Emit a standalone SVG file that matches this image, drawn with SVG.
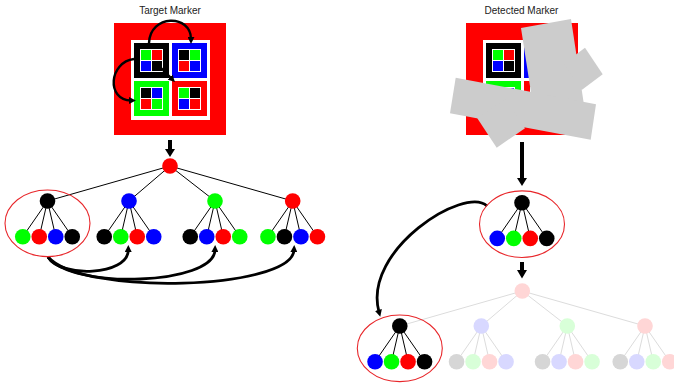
<svg xmlns="http://www.w3.org/2000/svg" width="674" height="387" viewBox="0 0 674 387">
<style>
.t{font-family:"Liberation Sans",Arial,sans-serif;font-size:10px;fill:#222;text-anchor:middle}
.e{stroke:#000;stroke-width:1}
.fe{stroke:#dcdcdc;stroke-width:1}
.ring{fill:none;stroke:#e8262a;stroke-width:1.1}
.con{fill:none;stroke:#000;stroke-width:2.8}
.mcon{fill:none;stroke:#000;stroke-width:2.4}
.k{fill:#000}.r{fill:#f00}.g{fill:#0f0}.b{fill:#00f}
.fk{fill:#d6d6d6}.fr{fill:#ffd6d6}.fg{fill:#d8ffd8}.fb{fill:#d8d8ff}
.w{fill:#fff}
.occ{fill:#cccccc}
</style>
<defs>
<marker id="ah" viewBox="0 0 10 10" refX="3" refY="5" markerWidth="7" markerHeight="7" markerUnits="userSpaceOnUse" orient="auto"><path d="M0,0 L10,5 L0,10 z" fill="#000"/></marker>
<g id="grid-k"><rect x="6" y="6" width="23" height="23" class="w"/><rect x="7" y="7" width="10" height="10" class="g"/><rect x="18" y="7" width="10" height="10" class="r"/><rect x="7" y="18" width="10" height="10" class="b"/><rect x="18" y="18" width="10" height="10" class="k"/></g>
<g id="grid-b"><rect x="6" y="6" width="23" height="23" class="w"/><rect x="7" y="7" width="10" height="10" class="k"/><rect x="18" y="7" width="10" height="10" class="g"/><rect x="7" y="18" width="10" height="10" class="r"/><rect x="18" y="18" width="10" height="10" class="b"/></g>
<g id="grid-g"><rect x="6" y="6" width="23" height="23" class="w"/><rect x="7" y="7" width="10" height="10" class="k"/><rect x="18" y="7" width="10" height="10" class="b"/><rect x="7" y="18" width="10" height="10" class="r"/><rect x="18" y="18" width="10" height="10" class="g"/></g>
<g id="grid-r"><rect x="6" y="6" width="23" height="23" class="w"/><rect x="7" y="7" width="10" height="10" class="g"/><rect x="18" y="7" width="10" height="10" class="k"/><rect x="7" y="18" width="10" height="10" class="b"/><rect x="18" y="18" width="10" height="10" class="r"/></g>
<g id="marker-body">
<rect x="0" y="0" width="112" height="112" class="r"/>
<rect x="17" y="17" width="79" height="80" class="w"/>
<rect x="20" y="20" width="35" height="35" class="k"/>
<rect x="58" y="20" width="35" height="35" class="b"/>
<rect x="20" y="58" width="35" height="35" class="g"/>
<rect x="58" y="58" width="35" height="35" class="r"/>
<use href="#grid-k" x="20" y="20"/>
<use href="#grid-b" x="58" y="20"/>
<use href="#grid-g" x="20" y="58"/>
<use href="#grid-r" x="58" y="58"/>
</g>
</defs>

<g id="title-target"><text class="t" x="170" y="13.5">Target Marker</text></g>
<g id="title-detected"><text class="t" x="521.5" y="13.5">Detected Marker</text></g>

<g id="target-marker">
<use href="#marker-body" x="114" y="23"/>
<path class="mcon" d="M149,43 C150,14 191,14 191,39" marker-end="url(#ah)"/>
<path class="mcon" d="M134,59 C109,62 106,100 131,100.5" marker-end="url(#ah)"/>
<path class="mcon" d="M160,67 L171.5,78.5" marker-end="url(#ah)"/>
</g>

<g id="detected-marker">
<use href="#marker-body" x="466" y="23"/>
<g id="occlusion">
<polygon class="occ" points="521,28 571,19 584,105 534,112"/>
<polygon class="occ" points="585,47.7 602.7,74.3 581.7,90 564,63.4"/>
<polygon class="occ" points="455.7,77.7 596,104.3 590.7,139.7 450,113.3"/>
<polygon class="occ" points="477.3,118.3 496.7,147.7 525,128.3 505.6,99"/>
</g>
</g>

<g id="connectors">
<path id="down-target" d="M168,140 L172,140 L172,149 L175,149 L170,157 L165,149 L168,149 Z" fill="#000"/>
<path id="down-detected" d="M520,142 L524,142 L524,178 L527,178 L522,186 L517,178 L520,178 Z" fill="#000"/>
<path id="down-match" d="M520,262 L524,262 L524,270 L527,270 L522,278.5 L517,270 L520,270 Z" fill="#000"/>
<path class="con" d="M48,257 C60,278 128,276 128.3,250" marker-end="url(#ah)"/>
<path class="con" d="M48,257 C72,290 214,285 215,250" marker-end="url(#ah)"/>
<path class="con" d="M48,257 C82,296 292,290 294,250" marker-end="url(#ah)"/>
<path class="con" d="M487,206 C465,185 362,250 379,312" marker-end="url(#ah)"/>
</g>

<g id="tree-target">
<g id="tree-target-edges">
<line class="e" x1="170" y1="166" x2="47.5" y2="201"/>
<line class="e" x1="170" y1="166" x2="129" y2="201"/>
<line class="e" x1="170" y1="166" x2="215" y2="201"/>
<line class="e" x1="170" y1="166" x2="292.7" y2="201"/>
</g>
<g id="t-root"><circle cx="170" cy="166" r="7.8" class="r"/></g>
<g id="t-k" transform="translate(47.5,201)">
<line class="e" x1="0" y1="0" x2="-24.75" y2="35.7"/><line class="e" x1="0" y1="0" x2="-8.25" y2="35.7"/><line class="e" x1="0" y1="0" x2="8.25" y2="35.7"/><line class="e" x1="0" y1="0" x2="24.75" y2="35.7"/>
<circle r="7.8" class="k"/>
<circle cx="-24.75" cy="35.7" r="7.8" class="g"/><circle cx="-8.25" cy="35.7" r="7.8" class="r"/><circle cx="8.25" cy="35.7" r="7.8" class="b"/><circle cx="24.75" cy="35.7" r="7.8" class="k"/>
</g>
<g id="t-b" transform="translate(129,201)">
<line class="e" x1="0" y1="0" x2="-24.75" y2="35.7"/><line class="e" x1="0" y1="0" x2="-8.25" y2="35.7"/><line class="e" x1="0" y1="0" x2="8.25" y2="35.7"/><line class="e" x1="0" y1="0" x2="24.75" y2="35.7"/>
<circle r="7.8" class="b"/>
<circle cx="-24.75" cy="35.7" r="7.8" class="k"/><circle cx="-8.25" cy="35.7" r="7.8" class="g"/><circle cx="8.25" cy="35.7" r="7.8" class="r"/><circle cx="24.75" cy="35.7" r="7.8" class="b"/>
</g>
<g id="t-g" transform="translate(215,201)">
<line class="e" x1="0" y1="0" x2="-24.75" y2="35.7"/><line class="e" x1="0" y1="0" x2="-8.25" y2="35.7"/><line class="e" x1="0" y1="0" x2="8.25" y2="35.7"/><line class="e" x1="0" y1="0" x2="24.75" y2="35.7"/>
<circle r="7.8" class="g"/>
<circle cx="-24.75" cy="35.7" r="7.8" class="k"/><circle cx="-8.25" cy="35.7" r="7.8" class="b"/><circle cx="8.25" cy="35.7" r="7.8" class="r"/><circle cx="24.75" cy="35.7" r="7.8" class="g"/>
</g>
<g id="t-r" transform="translate(292.7,201)">
<line class="e" x1="0" y1="0" x2="-24.75" y2="35.7"/><line class="e" x1="0" y1="0" x2="-8.25" y2="35.7"/><line class="e" x1="0" y1="0" x2="8.25" y2="35.7"/><line class="e" x1="0" y1="0" x2="24.75" y2="35.7"/>
<circle r="7.8" class="r"/>
<circle cx="-24.75" cy="35.7" r="7.8" class="g"/><circle cx="-8.25" cy="35.7" r="7.8" class="k"/><circle cx="8.25" cy="35.7" r="7.8" class="b"/><circle cx="24.75" cy="35.7" r="7.8" class="r"/>
</g>
<g id="t-ring"><ellipse cx="47.5" cy="223.3" rx="42.5" ry="33.3" class="ring"/></g>
</g>

<g id="detected-subtree" transform="translate(522,202.7)">
<line class="e" x1="0" y1="0" x2="-24.75" y2="35.7"/><line class="e" x1="0" y1="0" x2="-8.25" y2="35.7"/><line class="e" x1="0" y1="0" x2="8.25" y2="35.7"/><line class="e" x1="0" y1="0" x2="24.75" y2="35.7"/>
<circle r="7.8" class="k"/>
<circle cx="-24.75" cy="35.7" r="7.8" class="b"/><circle cx="-8.25" cy="35.7" r="7.8" class="g"/><circle cx="8.25" cy="35.7" r="7.8" class="r"/><circle cx="24.75" cy="35.7" r="7.8" class="k"/>
<ellipse cx="0" cy="21.5" rx="42.5" ry="33.3" class="ring"/>
</g>

<g id="tree-match">
<g id="tree-match-edges">
<line class="fe" x1="522.3" y1="291" x2="399.8" y2="326"/>
<line class="fe" x1="522.3" y1="291" x2="481.3" y2="326"/>
<line class="fe" x1="522.3" y1="291" x2="567.3" y2="326"/>
<line class="fe" x1="522.3" y1="291" x2="645" y2="326"/>
</g>
<g id="m-root"><circle cx="522.3" cy="291" r="7.8" class="fr"/></g>
<g id="m-k" transform="translate(399.8,326)">
<line class="e" x1="0" y1="0" x2="-24.75" y2="35.7"/><line class="e" x1="0" y1="0" x2="-8.25" y2="35.7"/><line class="e" x1="0" y1="0" x2="8.25" y2="35.7"/><line class="e" x1="0" y1="0" x2="24.75" y2="35.7"/>
<circle r="7.8" class="k"/>
<circle cx="-24.75" cy="35.7" r="7.8" class="b"/><circle cx="-8.25" cy="35.7" r="7.8" class="g"/><circle cx="8.25" cy="35.7" r="7.8" class="r"/><circle cx="24.75" cy="35.7" r="7.8" class="k"/>
<ellipse cx="0" cy="22.3" rx="42.5" ry="33.3" class="ring"/>
</g>
<g id="m-b" transform="translate(481.3,326)">
<line class="fe" x1="0" y1="0" x2="-24.75" y2="35.7"/><line class="fe" x1="0" y1="0" x2="-8.25" y2="35.7"/><line class="fe" x1="0" y1="0" x2="8.25" y2="35.7"/><line class="fe" x1="0" y1="0" x2="24.75" y2="35.7"/>
<circle r="7.8" class="fb"/>
<circle cx="-24.75" cy="35.7" r="7.8" class="fk"/><circle cx="-8.25" cy="35.7" r="7.8" class="fg"/><circle cx="8.25" cy="35.7" r="7.8" class="fr"/><circle cx="24.75" cy="35.7" r="7.8" class="fb"/>
</g>
<g id="m-g" transform="translate(567.3,326)">
<line class="fe" x1="0" y1="0" x2="-24.75" y2="35.7"/><line class="fe" x1="0" y1="0" x2="-8.25" y2="35.7"/><line class="fe" x1="0" y1="0" x2="8.25" y2="35.7"/><line class="fe" x1="0" y1="0" x2="24.75" y2="35.7"/>
<circle r="7.8" class="fg"/>
<circle cx="-24.75" cy="35.7" r="7.8" class="fk"/><circle cx="-8.25" cy="35.7" r="7.8" class="fb"/><circle cx="8.25" cy="35.7" r="7.8" class="fr"/><circle cx="24.75" cy="35.7" r="7.8" class="fg"/>
</g>
<g id="m-r" transform="translate(645,326)">
<line class="fe" x1="0" y1="0" x2="-24.75" y2="35.7"/><line class="fe" x1="0" y1="0" x2="-8.25" y2="35.7"/><line class="fe" x1="0" y1="0" x2="8.25" y2="35.7"/><line class="fe" x1="0" y1="0" x2="24.75" y2="35.7"/>
<circle r="7.8" class="fr"/>
<circle cx="-24.75" cy="35.7" r="7.8" class="fk"/><circle cx="-8.25" cy="35.7" r="7.8" class="fb"/><circle cx="8.25" cy="35.7" r="7.8" class="fg"/><circle cx="24.75" cy="35.7" r="7.8" class="fr"/>
</g>
</g>
</svg>
